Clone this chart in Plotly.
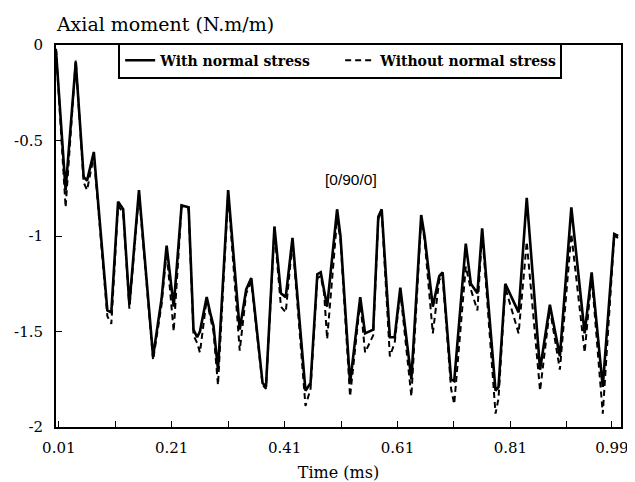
import plotly.graph_objects as go

# time (ms)
time_ms = [0.005, 0.022, 0.040, 0.054, 0.060, 0.072, 0.096, 0.103, 0.115, 0.124,
           0.135, 0.152, 0.177, 0.192, 0.201, 0.2135, 0.2275, 0.240, 0.2486, 0.255,
           0.260, 0.272, 0.278, 0.284, 0.292, 0.310, 0.3305, 0.342, 0.351, 0.371,
           0.377, 0.392, 0.4035, 0.412, 0.424, 0.447, 0.456, 0.468, 0.474, 0.480,
           0.4854, 0.503, 0.509, 0.526, 0.544, 0.5526, 0.567, 0.576, 0.582, 0.5965,
           0.605, 0.615, 0.6346, 0.652, 0.658, 0.6726, 0.684, 0.690, 0.705, 0.7105,
           0.731, 0.740, 0.7516, 0.760, 0.7837, 0.789, 0.801, 0.8246, 0.839, 0.8626,
           0.880, 0.8977, 0.918, 0.9416, 0.954, 0.9737, 0.994, 1.001]

with_normal = [-0.03, -0.76, -0.09, -0.69, -0.71, -0.56, -1.39, -1.40, -0.82, -0.86,
               -1.36, -0.76, -1.63, -1.33, -1.05, -1.37, -0.84, -0.85, -1.49, -1.53,
               -1.50, -1.32, -1.40, -1.47, -1.70, -0.76, -1.49, -1.28, -1.22, -1.77,
               -1.79, -0.95, -1.30, -1.32, -1.01, -1.81, -1.77, -1.20, -1.19, -1.28,
               -1.37, -0.86, -1.00, -1.77, -1.32, -1.51, -1.49, -0.90, -0.86, -1.53,
               -1.53, -1.27, -1.75, -0.89, -1.00, -1.37, -1.21, -1.19, -1.75, -1.76,
               -1.04, -1.25, -1.30, -0.96, -1.81, -1.79, -1.25, -1.40, -0.80, -1.70,
               -1.36, -1.63, -0.85, -1.51, -1.19, -1.79, -0.99, -1.00]

without_normal = [-0.02, -0.85, -0.08, -0.72, -0.76, -0.58, -1.42, -1.46, -0.84, -0.88,
                  -1.38, -0.78, -1.65, -1.36, -1.08, -1.50, -0.84, -0.86, -1.52, -1.56,
                  -1.61, -1.33, -1.42, -1.50, -1.78, -0.78, -1.60, -1.30, -1.24, -1.78,
                  -1.80, -0.97, -1.37, -1.40, -1.03, -1.89, -1.80, -1.22, -1.21, -1.30,
                  -1.54, -0.91, -1.02, -1.84, -1.34, -1.61, -1.52, -0.91, -0.87, -1.63,
                  -1.56, -1.29, -1.84, -0.91, -1.02, -1.51, -1.23, -1.21, -1.80, -1.88,
                  -1.16, -1.28, -1.39, -0.98, -1.93, -1.85, -1.27, -1.51, -1.03, -1.81,
                  -1.38, -1.70, -0.99, -1.61, -1.21, -1.93, -1.00, -1.01]

x_tickvals = [0.01, 0.11, 0.21, 0.31, 0.41, 0.51, 0.61, 0.71, 0.81, 0.91, 0.99]
x_ticktext = ["0.01", "", "0.21", "", "0.41", "", "0.61", "", "0.81", "", "0.99"]
y_tickvals = [0, -0.5, -1, -1.5, -2]
y_ticktext = ["0", "-0.5", "-1", "-1.5", "-2"]

serif = "DejaVu Serif"

fig = go.Figure()
fig.add_trace(go.Scatter(x=time_ms, y=without_normal, mode="lines",
                         name="Without normal stress",
                         line=dict(color="black", width=2, dash="6px,4px")))
fig.add_trace(go.Scatter(x=time_ms, y=with_normal, mode="lines",
                         name="With normal stress",
                         line=dict(color="black", width=2.6)))

fig.update_layout(
    width=627, height=474,
    margin=dict(l=48, r=14, t=37, b=55),
    plot_bgcolor="white", paper_bgcolor="white",
    font=dict(family=serif, color="black", size=15),
    showlegend=True,
    legend=dict(orientation="h", x=0.11, y=1.006, xanchor="left", yanchor="top",
                bordercolor="black", borderwidth=2, bgcolor="white",
                traceorder="reversed",
                font=dict(family=serif, size=14, weight="bold"),
                entrywidth=175, entrywidthmode="pixels", itemwidth=30),
    title=dict(text="Axial moment (N.m/m)", x=0.078, xanchor="left", y=0.966,
               yanchor="middle", font=dict(family=serif, size=19)),
    annotations=[dict(text="[0/90/0]", x=0.522, y=0.647, xref="paper", yref="paper",
                      showarrow=False,
                      font=dict(family="Liberation Sans", size=15.5, color="black"))],
)
fig.update_xaxes(range=[0.005, 1.006], tickvals=x_tickvals, ticktext=x_ticktext,
                 ticks="inside", ticklen=6, tickwidth=1, tickcolor="black",
                 showline=True, linewidth=2, linecolor="black", mirror=True,
                 showgrid=False, zeroline=False, ticklabelstandoff=6,
                 automargin=False,
                 title=dict(text="Time (ms)", font=dict(size=16), standoff=12))
fig.update_yaxes(range=[-2, 0], tickvals=y_tickvals, ticktext=y_ticktext,
                 ticks="inside", ticklen=6, tickwidth=1, tickcolor="black",
                 showline=True, linewidth=2, linecolor="black", mirror=True,
                 showgrid=False, zeroline=False, ticklabelstandoff=8,
                 automargin=False)

fig.write_html("out.html")
